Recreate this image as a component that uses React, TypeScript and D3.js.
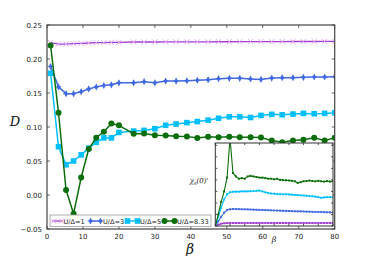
import * as d3 from 'd3';

// main panel: beta grid and D values per U/Δ
const betaMain = [1, 3.2, 5.3, 7.4, 9.5, 11.6, 13.7, 15.8, 17.9, 20.0, 24.1, 27.0, 30.0, 33.0, 35.9, 38.9, 41.8, 44.8, 47.7, 50.7, 53.6, 56.6, 59.5, 62.5, 65.4, 68.4, 71.3, 74.3, 77.2, 80.0];
const dU1 = [0.224, 0.222, 0.222, 0.2225, 0.223, 0.2235, 0.224, 0.224, 0.2245, 0.2245, 0.225, 0.225, 0.225, 0.2252, 0.2252, 0.2252, 0.2253, 0.2253, 0.2254, 0.2254, 0.2255, 0.2255, 0.2255, 0.2256, 0.2256, 0.2257, 0.2257, 0.2257, 0.2258, 0.2258];
const dU3 = [0.189, 0.159, 0.149, 0.149, 0.152, 0.156, 0.159, 0.161, 0.162, 0.165, 0.165, 0.1666, 0.165, 0.1676, 0.1676, 0.168, 0.1687, 0.1696, 0.171, 0.1716, 0.1716, 0.1706, 0.170, 0.172, 0.1725, 0.1725, 0.173, 0.1735, 0.1735, 0.174];
const dU5 = [0.179, 0.071, 0.0445, 0.05, 0.059, 0.069, 0.0775, 0.084, 0.084, 0.092, 0.094, 0.095, 0.0975, 0.1025, 0.1044, 0.1064, 0.108, 0.110, 0.1128, 0.115, 0.115, 0.114, 0.117, 0.1186, 0.118, 0.119, 0.120, 0.1195, 0.120, 0.121];
const dU833 = [0.22, 0.121, 0.0074, -0.0275, 0.0257, 0.0676, 0.0843, 0.093, 0.105, 0.1025, 0.090, 0.0905, 0.088, 0.0875, 0.0865, 0.0862, 0.084, 0.0857, 0.085, 0.0855, 0.085, 0.0848, 0.0845, 0.080, 0.0775, 0.080, 0.0814, 0.0843, 0.080, 0.0843];

// inset: chi_s(0)' vs beta
const betaInset = [0, 2, 4, 6, 8, 10, 12, 14, 16, 18, 20, 22, 24, 26, 28, 30, 32, 34, 36, 38, 40, 42, 44, 46, 48, 50, 52, 54, 56, 58, 60, 62, 64, 66, 68, 70, 72, 74, 76, 78, 80];
const chiU1 = [0, 0.12, 0.2, 0.24, 0.25, 0.26, 0.26, 0.26, 0.26, 0.26, 0.26, 0.26, 0.26, 0.26, 0.26, 0.26, 0.26, 0.26, 0.26, 0.26, 0.26, 0.26, 0.26, 0.26, 0.26, 0.26, 0.26, 0.26, 0.26, 0.26, 0.26, 0.26, 0.26, 0.26, 0.26, 0.26, 0.26, 0.26, 0.26, 0.26, 0.26];
const chiU3 = [0, 0.4, 0.8, 1.15, 1.38, 1.45, 1.47, 1.47, 1.46, 1.45, 1.45, 1.44, 1.43, 1.42, 1.41, 1.4, 1.39, 1.38, 1.37, 1.36, 1.35, 1.34, 1.33, 1.32, 1.31, 1.3, 1.29, 1.28, 1.27, 1.27, 1.26, 1.25, 1.24, 1.23, 1.22, 1.22, 1.21, 1.2, 1.19, 1.18, 1.17];
const chiU5 = [0, 0.8, 1.6, 2.3, 2.75, 2.92, 2.97, 2.98, 2.98, 3.0, 3.0, 3.0, 3.02, 3.03, 3.05, 3.08, 3.0, 2.92, 2.86, 2.82, 2.8, 2.78, 2.76, 2.75, 2.75, 2.74, 2.72, 2.7, 2.68, 2.66, 2.65, 2.63, 2.6, 2.58, 2.55, 2.5, 2.45, 2.48, 2.5, 2.5, 2.5];
const chiU833 = [0, 1.0, 2.1, 3.0, 4.2, 7.6, 4.6, 4.3, 4.1, 4.15, 4.1, 4.3, 4.35, 4.3, 4.25, 4.2, 4.2, 4.15, 4.1, 4.1, 4.05, 4.1, 4.0, 3.98, 3.97, 3.95, 3.92, 3.88, 3.74, 3.8, 3.88, 3.9, 3.94, 3.9, 3.88, 3.92, 3.88, 3.85, 3.9, 3.85, 3.88];

const yTicks = [0.25, 0.2, 0.15, 0.1, 0.05, 0.0, -0.05];
const xTicks = [0, 10, 20, 30, 40, 50, 60, 70, 80];
const legendLabels = ['U/Δ=1', 'U/Δ=3', 'U/Δ=5', 'U/Δ=8.33'];

const W = 372;
const H = 256;
const plot = { left: 47, right: 334.7, top: 25, bottom: 229 };
const inset = { left: 215.3, right: 333, top: 143, bottom: 226 };

const x = d3.scaleLinear().domain([0, 80]).range([plot.left, plot.right]);
const y = d3.scaleLinear().domain([-0.05, 0.25]).range([plot.bottom, plot.top]);
const xi = d3.scaleLinear().domain([0, 80]).range([inset.left, inset.right]);
const yi = d3.scaleLinear().domain([0, 7.2]).range([inset.bottom, inset.top]);

const colors = {
  u1line: '#a23fd2',
  u1mark: '#e3a9f2',
  u3: '#4169e1',
  u5: '#00bfff',
  u833: '#0b6e0b',
};

function Marker({ kind, cx, cy, color }: { kind: string; cx: number; cy: number; color: string }) {
  if (kind === 'x') {
    return (
      <path
        d={`M${cx - 2.6},${cy - 2.6}L${cx + 2.6},${cy + 2.6}M${cx - 2.6},${cy + 2.6}L${cx + 2.6},${cy - 2.6}`}
        stroke={color}
        strokeWidth={1}
      />
    );
  }
  if (kind === 'd') {
    return (
      <g>
        <path d={`M${cx},${cy - 3.6}L${cx + 1.9},${cy}L${cx},${cy + 3.6}L${cx - 1.9},${cy}Z`} fill={color} />
        <path d={`M${cx - 2.8},${cy}L${cx + 2.8},${cy}`} stroke={color} strokeWidth={1} />
      </g>
    );
  }
  if (kind === 's') {
    return <rect x={cx - 2.8} y={cy - 2.8} width={5.6} height={5.6} fill={color} />;
  }
  return <circle cx={cx} cy={cy} r={3} fill={color} />;
}

export default function App() {
  const line = d3
    .line<[number, number]>()
    .x((d) => x(d[0]))
    .y((d) => y(d[1]));
  const lineI = d3
    .line<[number, number]>()
    .x((d) => xi(d[0]))
    .y((d) => yi(d[1]));

  const mainSeries = [
    { vals: dU1, stroke: colors.u1line, mark: colors.u1mark, kind: 'x', w: 1.3 },
    { vals: dU3, stroke: colors.u3, mark: colors.u3, kind: 'd', w: 1.5 },
    { vals: dU5, stroke: colors.u5, mark: colors.u5, kind: 's', w: 1.5 },
    { vals: dU833, stroke: colors.u833, mark: colors.u833, kind: 'o', w: 1.5 },
  ];
  const insetSeries = [
    { vals: chiU1, stroke: colors.u1line },
    { vals: chiU3, stroke: colors.u3 },
    { vals: chiU5, stroke: colors.u5 },
    { vals: chiU833, stroke: colors.u833 },
  ];

  const legendX = [52, 89, 126, 163];
  const legendW = [11, 13, 13, 13];
  const legendTx = [63.5, 103, 140, 177];
  const legY = 221;

  return (
    <svg
      width={W}
      height={H}
      style={{ position: 'absolute', left: 0, top: 0, background: '#fff' }}
      fontFamily="DejaVu Sans, sans-serif"
    >
      <defs>
        <clipPath id="clipMain">
          <rect x={plot.left} y={plot.top} width={plot.right - plot.left} height={plot.bottom - plot.top} />
        </clipPath>
        <clipPath id="clipInset">
          <rect x={inset.left} y={inset.top} width={inset.right - inset.left} height={inset.bottom - inset.top} />
        </clipPath>
      </defs>

      {/* ticks on main frame */}
      {xTicks.map((t) => (
        <g key={'xt' + t}>
          <line x1={x(t)} x2={x(t)} y1={plot.top} y2={plot.top + 3} stroke="#666" />
          <line x1={x(t)} x2={x(t)} y1={plot.bottom} y2={plot.bottom - 3} stroke="#666" />
          <text x={x(t)} y={239} fontSize={7} textAnchor="middle" fill="#222">
            {t}
          </text>
        </g>
      ))}
      {yTicks.map((t) => (
        <g key={'yt' + t}>
          <line x1={plot.left} x2={plot.left + 3} y1={y(t)} y2={y(t)} stroke="#666" />
          <line x1={plot.right} x2={plot.right - 3} y1={y(t)} y2={y(t)} stroke="#666" />
          <text x={42} y={y(t) + 2.5} fontSize={7} textAnchor="end" fill="#222">
            {t < 0 ? '\u22120.05' : t.toFixed(2)}
          </text>
        </g>
      ))}

      <g clipPath="url(#clipMain)">
        {mainSeries.map((s, i) => {
          const pts = betaMain.map((b, j) => [b, s.vals[j]] as [number, number]);
          return (
            <g key={'ms' + i}>
              <path d={line(pts) ?? ''} fill="none" stroke={s.stroke} strokeWidth={s.w} strokeLinejoin="round" />
              {pts.map((p, j) => (
                <Marker key={j} kind={s.kind} cx={x(p[0])} cy={y(p[1])} color={s.mark} />
              ))}
            </g>
          );
        })}
      </g>

      <rect
        x={plot.left}
        y={plot.top}
        width={plot.right - plot.left}
        height={plot.bottom - plot.top}
        fill="none"
        stroke="#444"
        strokeWidth={1.2}
      />

      {/* legend */}
      <rect x={50} y={215} width={161} height={11.5} fill="#fff" stroke="#999" strokeWidth={0.8} />
      {legendLabels.map((lab, i) => {
        const s = mainSeries[i];
        const x0 = legendX[i];
        const w = legendW[i];
        return (
          <g key={'lg' + i}>
            <line x1={x0} x2={x0 + w} y1={legY} y2={legY} stroke={s.stroke} strokeWidth={s.w} />
            <Marker kind={s.kind} cx={x0 + 1.5} cy={legY} color={s.mark} />
            <Marker kind={s.kind} cx={x0 + w - 1.5} cy={legY} color={s.mark} />
            <text x={legendTx[i]} y={legY + 2.5} fontSize={6.6} fill="#222">
              {lab}
            </text>
          </g>
        );
      })}

      {/* inset */}
      <rect
        x={inset.left}
        y={inset.top}
        width={inset.right - inset.left}
        height={inset.bottom - inset.top}
        fill="#fff"
      />
      <g clipPath="url(#clipInset)">
        {insetSeries.map((s, i) => {
          const pts = betaInset.map((b, j) => [b, s.vals[j]] as [number, number]);
          return (
            <g key={'is' + i}>
              <path d={lineI(pts) ?? ''} fill="none" stroke={s.stroke} strokeWidth={1.1} />
              {pts.map((p, j) => (
                <rect key={j} x={xi(p[0]) - 1} y={yi(p[1]) - 1} width={2} height={2} fill={s.stroke} />
              ))}
            </g>
          );
        })}
      </g>
      {xTicks.map((t) => (
        <g key={'ixt' + t}>
          <line x1={xi(t)} x2={xi(t)} y1={inset.bottom} y2={inset.bottom - 2} stroke="#555" />
          <line x1={xi(t)} x2={xi(t)} y1={inset.top} y2={inset.top + 2} stroke="#555" />
        </g>
      ))}
      {[0, 1, 2, 3, 4, 5, 6, 7].map((t) => (
        <g key={'iyt' + t}>
          <line x1={inset.left} x2={inset.left + 2} y1={yi(t)} y2={yi(t)} stroke="#555" />
          <line x1={inset.right} x2={inset.right - 2} y1={yi(t)} y2={yi(t)} stroke="#555" />
        </g>
      ))}
      <rect
        x={inset.left}
        y={inset.top}
        width={inset.right - inset.left}
        height={inset.bottom - inset.top}
        fill="none"
        stroke="#333"
        strokeWidth={1}
      />
      <text x={199} y={183} fontSize={7} textAnchor="middle" fontFamily="DejaVu Serif, serif" fontStyle="italic" fill="#222">
        χ<tspan fontSize={5} dy={1.5}>s</tspan>
        <tspan dy={-1.5}>(0)'</tspan>
      </text>
      <text x={274} y={242} fontSize={8} textAnchor="middle" fontFamily="DejaVu Serif, serif" fontStyle="italic" fill="#222">
        β
      </text>

      {/* axis labels */}
      <text x={15} y={126} fontSize={13} textAnchor="middle" fontFamily="DejaVu Serif, serif" fontStyle="italic" fill="#111">
        D
      </text>
      <text x={190} y={254} fontSize={14} textAnchor="middle" fontFamily="DejaVu Serif, serif" fontStyle="italic" fill="#111">
        β
      </text>
    </svg>
  );
}
